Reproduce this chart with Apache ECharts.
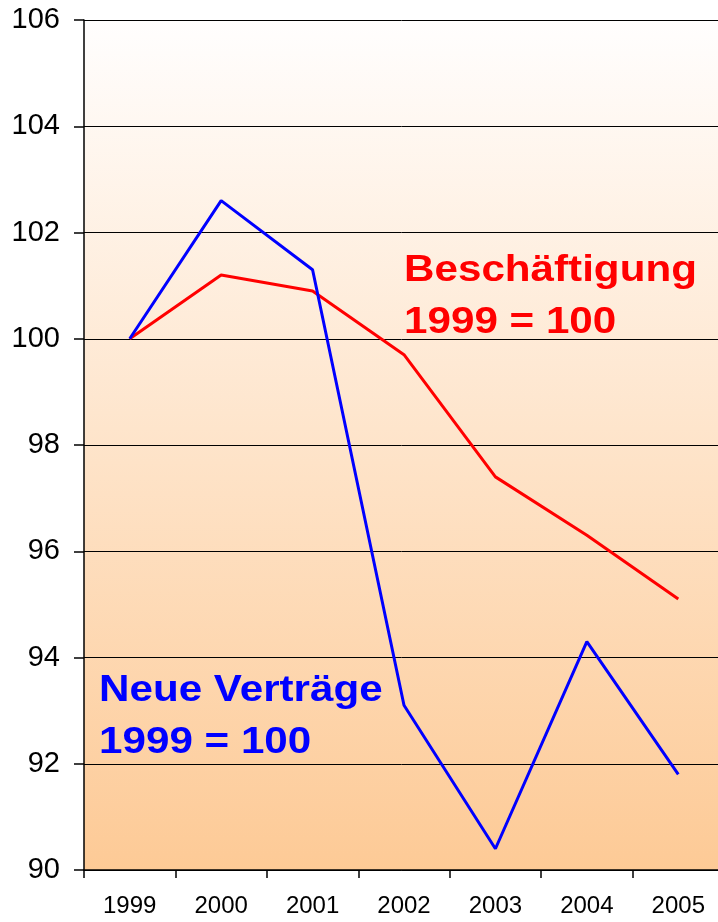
<!DOCTYPE html>
<html><head><meta charset="utf-8">
<script src="https://cdn.jsdelivr.net/npm/echarts@6/dist/echarts.min.js"></script>
<style>html,body{margin:0;padding:0;background:#fff}#c{width:718px;height:922px}</style>
</head><body><div id="c"></div>
<script>
var years = ['1999','2000','2001','2002','2003','2004','2005'];
var beschaeftigung = [100, 101.2, 100.9, 99.7, 97.4, 96.3, 95.1];
var neueVertraege = [100, 102.6, 101.3, 93.1, 90.4, 94.3, 91.8];
var yTicks = [90, 92, 94, 96, 98, 100, 102, 104, 106];

var chart = echarts.init(document.getElementById('c'));
chart.setOption({
  animation: false,
  grid: {
    left: 84, top: 20, width: 640, height: 850,
    outerBoundsMode: 'none', containLabel: false,
    show: true, borderWidth: 0,
    backgroundColor: {type: 'linear', x: 0, y: 0, x2: 0, y2: 1,
      colorStops: [{offset: 0, color: '#fffefe'}, {offset: 1, color: '#fdca96'}]}
  },
  xAxis: {
    type: 'category', data: years, boundaryGap: true,
    axisLine: {lineStyle: {color: '#000', width: 1.5}},
    axisTick: {show: true, length: 8, inside: false, lineStyle: {color: '#000', width: 1.5}},
    axisLabel: {color: '#000', fontSize: 24, fontFamily: 'Liberation Sans', margin: 24},
    splitLine: {show: false}
  },
  yAxis: {
    type: 'value', min: yTicks[0], max: yTicks[yTicks.length-1], interval: 2,
    axisLine: {show: true, lineStyle: {color: '#000', width: 1.5}},
    axisTick: {show: true, length: 10, lineStyle: {color: '#000', width: 1.5}},
    axisLabel: {color: '#000', fontSize: 29, fontFamily: 'Liberation Sans', margin: 24},
    splitLine: {show: true, lineStyle: {color: '#000', width: 1}}
  },
  series: [
    {type: 'line', name: 'Beschäftigung', data: beschaeftigung, symbol: 'none',
      lineStyle: {color: '#ff0000', width: 3}, itemStyle: {color: '#ff0000'}},
    {type: 'line', name: 'Neue Verträge', data: neueVertraege, symbol: 'none',
      lineStyle: {color: '#0000ff', width: 3}, itemStyle: {color: '#0000ff'}}
  ],
  graphic: [
    {type: 'text', x: 404, y: 245, scaleX: 1.14, z: 10, style: {text: 'Beschäftigung\n1999 = 100', fill: '#ff0000',
      font: 'bold 37px "Liberation Sans"', lineHeight: 52, verticalAlign: 'top', align: 'left'}},
    {type: 'text', x: 99, y: 665, scaleX: 1.14, z: 10, style: {text: 'Neue Verträge\n1999 = 100', fill: '#0000ff',
      font: 'bold 37px "Liberation Sans"', lineHeight: 52, verticalAlign: 'top', align: 'left'}}
  ]
});
</script></body></html>
